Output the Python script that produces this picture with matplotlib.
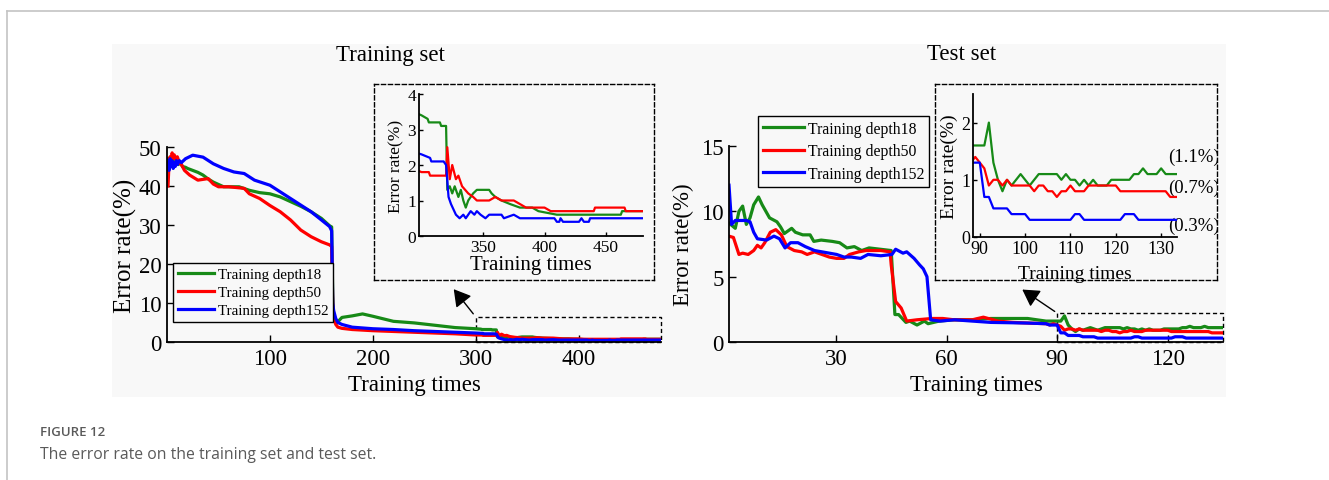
import matplotlib
matplotlib.use("Agg")
import matplotlib.pyplot as plt
from matplotlib.patches import Rectangle, FancyArrowPatch
from matplotlib.lines import Line2D

# ---------------- data ----------------
series_names = ["Training depth18", "Training depth50", "Training depth152"]
colors = ["#178a17", "#ff0000", "#0000ff"]

# Training set (x = training times, y = error rate %)
train_x_18 = [1, 3, 5, 7, 9, 11, 13, 15, 18, 20, 25, 30, 35, 40, 45, 55, 70, 80, 90, 100,
              110, 120, 130, 140, 150, 158, 160, 161, 162, 165, 170, 180, 190, 200, 220, 240,
              260, 280, 300, 305, 306, 315, 316, 320, 321, 323, 325, 327, 330, 332, 334, 336,
              338, 342, 345, 355, 357, 360, 365, 372, 380, 390, 395, 410, 462, 463, 480]
train_y_18 = [47, 46, 47, 45.5, 46.5, 45.5, 46, 45, 44.8, 44.5, 44, 43.5, 42.8, 41.8, 41, 39.8, 39.8, 38.9, 38.3, 38,
              37.2, 36, 34.8, 33.4, 31.7, 29.8, 29.5, 12, 6, 4.9, 6.3, 6.7, 7.2, 6.6, 5.3, 4.9,
              4.3, 3.7, 3.4, 3.3, 3.2, 3.2, 3.1, 3.1, 1.3, 1.4, 1.2, 1.4, 1.1, 1.3, 1.0, 0.8,
              1.0, 1.2, 1.3, 1.3, 1.2, 1.1, 1.0, 0.9, 0.8, 0.8, 0.7, 0.6, 0.6, 0.7, 0.7]

train_x_50 = [1, 2, 3, 4, 5, 6, 7, 8, 10, 12, 14, 17, 22, 30, 40, 45, 50, 60, 75, 80,
              90, 100, 110, 120, 130, 140, 150, 158, 160, 161, 162, 164, 166, 170, 180, 200, 220, 240,
              260, 280, 300, 306, 307, 320, 321, 323, 325, 328, 330, 333, 338, 342, 345, 355,
              360, 365, 375, 380, 385, 400, 405, 440, 441, 465, 466, 480]
train_y_50 = [40, 46, 47.5, 46.5, 48.5, 47, 48, 47, 47.5, 46, 45.5, 44, 42.8, 41.5, 41.9, 40.5, 39.8, 39.8, 39.4, 38,
              36.8, 35, 33.4, 31.3, 28.7, 27, 25.7, 24.9, 24.5, 10, 6, 4.5, 3.8, 3.5, 3.2, 2.9, 2.7, 2.5,
              2.3, 2.1, 1.8, 1.8, 1.7, 1.7, 2.5, 1.6, 2.0, 1.6, 1.7, 1.4, 1.2, 1.1, 1.0, 1.0,
              1.1, 1.0, 1.0, 0.9, 0.8, 0.8, 0.7, 0.7, 0.8, 0.8, 0.7, 0.7]

train_x_152 = [1, 2, 3, 4, 5, 6, 7, 8, 9, 10, 12, 14, 16, 18, 25, 35, 45, 55, 65, 75,
               85, 100, 110, 120, 130, 140, 150, 158, 160, 161, 162, 164, 166, 170, 180, 200, 220, 240,
               260, 280, 300, 307, 308, 318, 320, 322, 324, 328, 331, 334, 336, 340, 343, 345,
               348, 352, 355, 365, 367, 375, 380, 408, 410, 412, 413, 415, 428, 430, 432, 436, 437, 480]
train_y_152 = [46, 44, 47, 45, 46.5, 44.5, 46, 45, 46.5, 45.5, 46.5, 46, 46.5, 47, 47.9, 47.4, 45.7, 44.5, 43.6, 43.2,
               41.5, 40.2, 38.5, 36.8, 35.1, 33.4, 31.3, 29.6, 28.5, 10, 8, 6, 5, 4.5, 3.8, 3.4, 3.2, 2.9,
               2.7, 2.5, 2.3, 2.2, 2.1, 2.1, 2.0, 1.1, 0.9, 0.6, 0.5, 0.6, 0.5, 0.7, 0.6, 0.7,
               0.6, 0.5, 0.6, 0.6, 0.5, 0.6, 0.5, 0.5, 0.4, 0.4, 0.5, 0.4, 0.4, 0.5, 0.4, 0.4, 0.5, 0.5]

# Test set
test_x_18 = [1, 2.7, 3.7, 4.7, 5.7, 6.7, 7.7, 9, 10, 12, 14, 15, 16, 18, 19, 21, 23, 24, 26, 29,
             31, 33, 35, 37, 39, 42, 45, 46, 47, 49, 50, 52, 54, 55, 58, 62, 67, 72, 77, 82, 87,
             88, 89, 90, 91, 92, 93, 94, 95, 96, 97, 98, 99, 100, 101, 102, 103, 107, 108, 109,
             110, 111, 112, 113, 114, 115, 116, 118, 119, 123, 124, 125, 126, 127, 129, 130, 131, 135]
test_y_18 = [9.1, 8.7, 10, 10.4, 9, 9.5, 10.5, 11.1, 10.5, 9.5, 9.2, 8.8, 8.3, 8.7, 8.4, 8.2, 8.2, 7.7, 7.8, 7.7,
             7.6, 7.2, 7.3, 7.0, 7.2, 7.1, 7.0, 2.1, 2.1, 1.5, 1.6, 1.3, 1.6, 1.4, 1.6, 1.7, 1.7, 1.8, 1.8, 1.8, 1.6,
             1.6, 1.6, 1.6, 1.6, 2.0, 1.3, 1.0, 0.8, 1.0, 0.9, 1.0, 1.1, 1.0, 0.9, 1.0, 1.1, 1.1, 1.0, 1.1,
             1.0, 1.0, 0.9, 1.0, 0.9, 1.0, 0.9, 0.9, 1.0, 1.0, 1.1, 1.1, 1.2, 1.1, 1.1, 1.2, 1.1, 1.1]

test_x_50 = [1, 2.2, 3.7, 4.7, 6.2, 7.7, 8.7, 9.7, 10.7, 12.2, 13.7, 15.2, 16.7, 18.7, 20.7, 22.2, 24.2, 26.2, 28.2, 30.2,
             32.2, 33.7, 36.2, 38.2, 42.2, 44.7, 45, 46.2, 47.7, 49.2, 52, 56, 59, 62, 67, 70, 74, 78, 82, 87,
             88, 89, 90, 91, 92, 93, 94, 95, 96, 97, 101, 102, 103, 104, 105, 106, 107, 108, 109, 110,
             111, 113, 114, 120, 121, 131, 132, 135]
test_y_50 = [8.1, 8.0, 6.7, 6.8, 6.7, 7.0, 7.4, 7.2, 7.6, 8.4, 8.6, 8.2, 7.3, 7.0, 6.9, 6.7, 6.9, 6.7, 6.5, 6.4,
             6.4, 6.7, 6.9, 7.0, 7.0, 6.9, 5.9, 3.1, 2.6, 1.6, 1.7, 1.8, 1.8, 1.7, 1.7, 1.9, 1.6, 1.5, 1.45, 1.4,
             1.3, 1.4, 1.3, 1.2, 0.9, 1.0, 1.0, 0.9, 1.0, 0.9, 0.9, 0.8, 0.9, 0.9, 0.8, 0.8, 0.7, 0.8, 0.8, 0.9,
             0.8, 0.8, 0.9, 0.9, 0.8, 0.8, 0.7, 0.7]

test_x_152 = [1, 1.7, 2.7, 4.2, 5.7, 6.7, 7.7, 8.7, 11.2, 13.2, 14.7, 16.2, 17.7, 19.7, 21.7, 24.2, 26.2, 28.2, 30.2, 32.2,
              34.2, 36.7, 38.7, 42.2, 45.2, 46.2, 48.2, 49.2, 51.2, 52.7, 53.7, 54.7, 55.7, 58.2, 62.2, 67, 72, 82, 87,
              88, 90, 91, 92, 93, 96, 97, 100, 101, 110, 111, 112, 113, 121, 122, 124, 125, 135]
test_y_152 = [12.0, 9.0, 9.3, 9.3, 9.3, 9.2, 8.4, 7.9, 7.8, 8.1, 7.9, 7.2, 7.6, 7.6, 7.3, 7.0, 6.9, 6.8, 6.7, 6.5,
              6.5, 6.4, 6.7, 6.6, 6.7, 7.1, 6.8, 6.9, 6.4, 5.9, 5.6, 5.0, 1.7, 1.6, 1.7, 1.6, 1.5, 1.45, 1.4,
              1.3, 1.3, 0.7, 0.7, 0.5, 0.5, 0.4, 0.4, 0.3, 0.3, 0.4, 0.4, 0.3, 0.3, 0.4, 0.4, 0.3, 0.3]

train_xticks = [100, 200, 300, 400]
train_yticks = [0, 10, 20, 30, 40, 50]
train_inset_xticks = [350, 400, 450]
train_inset_yticks = [0, 1, 2, 3, 4]
test_xticks = [30, 60, 90, 120]
test_yticks = [0, 5, 10, 15]
test_inset_xticks = [90, 100, 110, 120, 130]
test_inset_yticks = [0, 1, 2]
final_labels = ["(1.1%)", "(0.7%)", "(0.3%)"]

# ---------------- figure ----------------
W, H = 1329, 481
fig = plt.figure(figsize=(W / 100, H / 100), dpi=100)
fig.patch.set_facecolor("white")
SERIF = ["Liberation Serif", "DejaVu Serif"]


def rect(l, t, r, b):
    return [l / W, 1 - b / H, (r - l) / W, (b - t) / H]


def px(x, y):
    return (x / W, 1 - y / H)


# page decorations
fig.add_artist(Line2D([7 / W, 1], [1 - 11.5 / H] * 2, color="#c4c4c4", lw=1.2))
fig.add_artist(Line2D([7.3 / W] * 2, [0, 1 - 11.5 / H], color="#c4c4c4", lw=1.2))
fig.add_artist(Rectangle(px(112, 398), (1226 - 112) / W, (398 - 45) / H,
                         transform=fig.transFigure, facecolor="#f8f8f8", edgecolor="none", zorder=-5))
fig.text(40 / W, 1 - 433 / H, "FIGURE 12", fontsize=9.5, color="#5a5a5a", family="Open Sans",
         fontweight="semibold", va="center", ha="left")
fig.text(40 / W, 1 - 455 / H, "The error rate on the training set and test set.", fontsize=11.3,
         color="#5a5a5a", family="Open Sans", va="center", ha="left")

datasets = {
    "train": [(train_x_18, train_y_18), (train_x_50, train_y_50), (train_x_152, train_y_152)],
    "test": [(test_x_18, test_y_18), (test_x_50, test_y_50), (test_x_152, test_y_152)],
}


def style_axes(ax, xticks, yticks, fs, tl=5, pad=3):
    ax.set_facecolor("none")
    for s in ["top", "right"]:
        ax.spines[s].set_visible(False)
    for s in ["left", "bottom"]:
        ax.spines[s].set_linewidth(1.3)
    ax.set_xticks(xticks)
    ax.set_yticks(yticks)
    ax.tick_params(direction="in", length=tl, width=1, labelsize=fs, pad=pad)
    for lab in ax.get_xticklabels() + ax.get_yticklabels():
        lab.set_family(SERIF)


def box_axes(rc):
    b = fig.add_axes(rc)
    b.set_facecolor("none")
    b.set_xticks([])
    b.set_yticks([])
    b.set_xlim(0, 1)
    b.set_ylim(0, 1)
    for s in b.spines.values():
        s.set_linestyle((0, (3, 2)))
        s.set_linewidth(1.0)
    return b


# ---- Training set main ----
axL = fig.add_axes(rect(167, 148, 661, 343))
for (x, y), c, n in zip(datasets["train"], colors, series_names):
    axL.plot(x, y, color=c, lw=2.3, label=n)
axL.set_xlim(0, 480)
axL.set_ylim(0, 50)
style_axes(axL, train_xticks, train_yticks, 16.5, pad=4)
axL.set_xlabel("Training times", fontsize=16.5, family=SERIF, labelpad=4)
axL.set_ylabel("Error rate(%)", fontsize=18, family=SERIF, labelpad=1)
fig.text(390 / W, 1 - 56 / H, "Training set", fontsize=16.5, family=SERIF, ha="center", va="center")
axL.add_patch(Rectangle((300, 0), 180, 6.3, fill=False, ls=(0, (3, 2)), lw=1.0, clip_on=False))
legL = axL.legend(loc="upper left", bbox_to_anchor=px(173, 264), bbox_transform=fig.transFigure,
                  borderaxespad=0, fancybox=False, edgecolor="black", framealpha=1, facecolor="#f8f8f8",
                  prop={"family": SERIF, "size": 10.8}, handlelength=2.4, handletextpad=0.3,
                  labelspacing=0.3, borderpad=0.3)
legL.get_frame().set_linewidth(1.0)

# ---- Training set inset ----
box_axes(rect(374, 85, 654, 281))
insL = fig.add_axes(rect(419, 95, 643, 237))
for (x, y), c in zip(datasets["train"], colors):
    insL.plot(x, y, color=c, lw=1.6)
insL.set_xlim(298, 480)
insL.set_ylim(0, 4)
style_axes(insL, train_inset_xticks, train_inset_yticks, 12.5, tl=3, pad=2)
insL.set_xlabel("Training times", fontsize=15, family=SERIF, labelpad=0)
insL.set_ylabel("Error rate(%)", fontsize=12.5, family=SERIF, labelpad=2)
fig.add_artist(FancyArrowPatch(px(475, 317), px(452, 288), transform=fig.transFigure,
               arrowstyle="-|>,head_length=6,head_width=3.5", color="black", lw=1.0, mutation_scale=1.7))

# ---- Test set main ----
axR = fig.add_axes(rect(729, 147, 1223, 343))
for (x, y), c, n in zip(datasets["test"], colors, series_names):
    axR.plot(x, y, color=c, lw=2.3, label=n)
axR.set_xlim(1, 135)
axR.set_ylim(0, 15)
style_axes(axR, test_xticks, test_yticks, 16.5, pad=4)
axR.set_xlabel("Training times", fontsize=16.5, family=SERIF, labelpad=4)
axR.set_ylabel("Error rate(%)", fontsize=16.5, family=SERIF, labelpad=5)
fig.text(962 / W, 1 - 55 / H, "Test set", fontsize=16.5, family=SERIF, ha="center", va="center")
axR.add_patch(Rectangle((90, 0), 45, 2.2, fill=False, ls=(0, (3, 2)), lw=1.0, clip_on=False))
legR = axR.legend(loc="upper left", bbox_to_anchor=px(758, 117), bbox_transform=fig.transFigure,
                  borderaxespad=0, fancybox=False, edgecolor="black", framealpha=1, facecolor="#f8f8f8",
                  prop={"family": SERIF, "size": 11.3}, handlelength=2.6, handletextpad=0.3,
                  labelspacing=0.42, borderpad=0.3)
legR.get_frame().set_linewidth(1.0)

# ---- Test set inset ----
boxR = box_axes(rect(935, 85, 1217, 281))
insR = fig.add_axes(rect(973, 95, 1177, 238))
for (x, y), c in zip(datasets["test"], colors):
    insR.plot(x, y, color=c, lw=1.6)
insR.set_xlim(88.5, 133.5)
insR.set_ylim(0, 2.5)
style_axes(insR, test_inset_xticks, test_inset_yticks, 13, tl=3, pad=2)
insR.set_xlabel("Training times", fontsize=14, family=SERIF, labelpad=6)
insR.set_ylabel("Error rate(%)", fontsize=14, family=SERIF, labelpad=2)
for lab, ypx in zip(final_labels, [157, 188, 226]):
    boxR.text((1168 - 935) / (1217 - 935), (281 - ypx) / (281 - 85), lab, transform=boxR.transAxes,
              fontsize=13.5, family=SERIF, va="center", ha="left", clip_on=True)
fig.add_artist(FancyArrowPatch(px(1057, 314), px(1020, 289), transform=fig.transFigure,
               arrowstyle="-|>,head_length=6,head_width=3.5", color="black", lw=1.0, mutation_scale=1.7))

fig.savefig("out.png", dpi=100, facecolor="white")
